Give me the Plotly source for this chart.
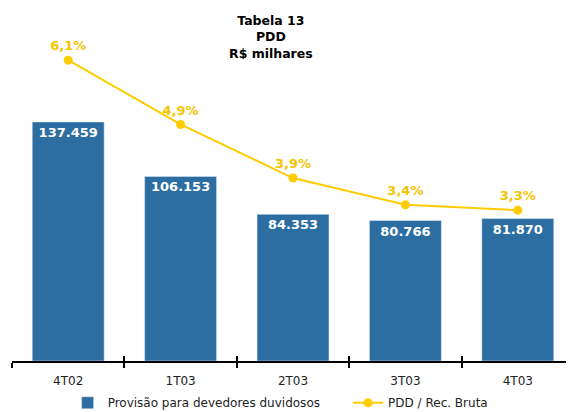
import plotly.graph_objects as go

# Data
quarters = ["4T02", "1T03", "2T03", "3T03", "4T03"]
provisao = [137459, 106153, 84353, 80766, 81870]
pdd_pct = [6.1, 4.9, 3.9, 3.4, 3.3]

bar_labels = [f"{v:,}".replace(",", ".") for v in provisao]
pct_labels = [f"{v:.1f}%".replace(".", ",") for v in pdd_pct]

blue = "#2C6EA2"
gold = "#FFCC00"

fig = go.Figure()

fig.add_trace(go.Bar(
    x=quarters,
    y=provisao,
    name="Provisão para devedores duvidosos",
    marker_color=blue,
    text=bar_labels,
    textposition="inside",
    insidetextanchor="end",
    textangle=0,
    textfont=dict(family="DejaVu Sans", size=13, color="white", weight="bold"),
    xaxis="x",
    yaxis="y",
    legend="legend",
))

fig.add_trace(go.Scatter(
    x=quarters,
    y=pdd_pct,
    name="PDD / Rec. Bruta",
    mode="lines+markers+text",
    line=dict(color=gold, width=2),
    marker=dict(color=gold, size=9),
    text=pct_labels,
    textposition="top center",
    textfont=dict(family="DejaVu Sans", size=13, color="#F5C400", weight="bold"),
    cliponaxis=False,
    xaxis="x2",
    yaxis="y2",
    legend="legend2",
))

legend_style = dict(
    orientation="h", y=-0.08, xanchor="left", yanchor="top",
    font=dict(family="DejaVu Sans", size=12, color="#222222"),
    itemwidth=30, bgcolor="rgba(0,0,0,0)",
)

# the page body adds an 8px margin, so the figure is sized 8px smaller
fig.update_layout(
    width=566,
    height=404,
    margin=dict(l=4, r=0, t=12, b=51, autoexpand=False),
    plot_bgcolor="white",
    paper_bgcolor="white",
    bargap=0.36,
    showlegend=True,
    font=dict(family="DejaVu Sans", size=12, color="#222222"),
    xaxis=dict(
        type="category",
        showline=True, linecolor="black", linewidth=2,
        ticks="outside", tickson="boundaries", ticklen=5, tickwidth=2, tickcolor="black",
        showgrid=False, automargin=False,
        ticklabelstandoff=8,
        tickfont=dict(family="DejaVu Sans", size=12, color="#222222"),
    ),
    xaxis2=dict(
        type="category", overlaying="x", anchor="y", side="bottom",
        range=[-0.5, len(quarters) - 0.5],
        showline=False, automargin=False,
        ticks="inside", tickson="boundaries", ticklen=5, tickwidth=2, tickcolor="black",
        showticklabels=False, showgrid=False,
    ),
    yaxis=dict(range=[0, 196075], visible=False, showgrid=False),
    yaxis2=dict(range=[0.485, 6.85], overlaying="y", visible=False, showgrid=False),
    legend=dict(x=0.099, **legend_style),
    legend2=dict(x=0.598, **legend_style),
    annotations=[dict(
        text="<b>Tabela 13<br>PDD<br>R$ milhares</b>",
        xref="paper", yref="paper", x=(271 - 12) / 562, y=1.026,
        xanchor="center", yanchor="top", showarrow=False,
        font=dict(family="DejaVu Sans", size=12.5, color="black"),
    )],
)

fig.write_html("out.html")
